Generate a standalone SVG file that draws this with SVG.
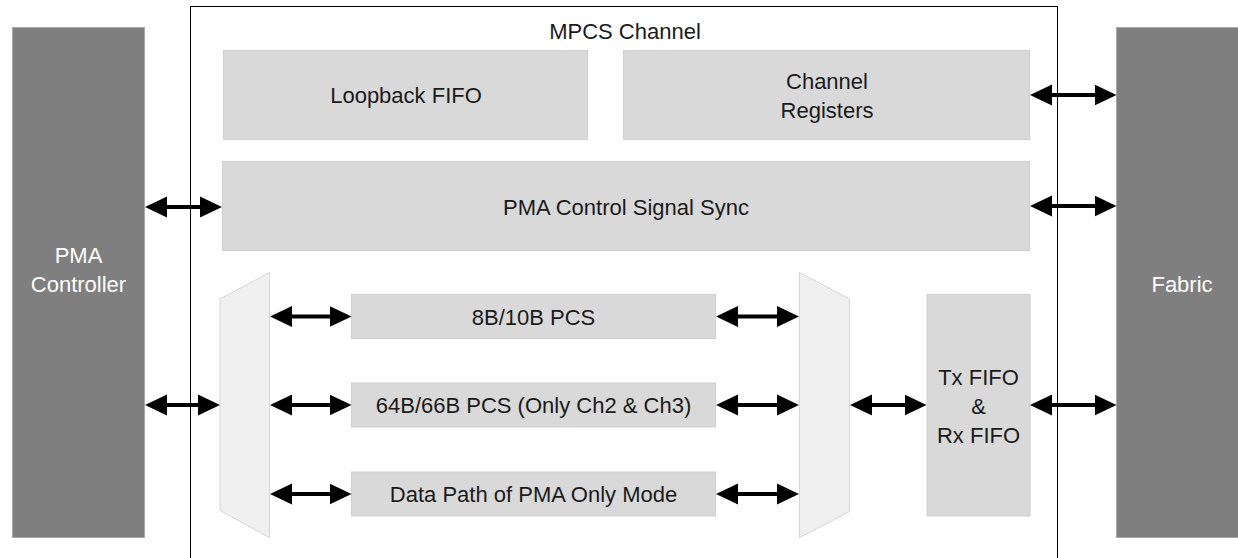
<svg xmlns="http://www.w3.org/2000/svg" width="1238" height="558" viewBox="0 0 1238 558">
<style>
.t{font-family:"Liberation Sans",Arial,sans-serif;font-size:22px;fill:#1a1a1a;text-anchor:middle}
.w{font-family:"Liberation Sans",Arial,sans-serif;font-size:22px;fill:#ffffff;text-anchor:middle}
.blk{fill:#d9d9d9;stroke:#cfcfcf;stroke-width:1}
.dark{fill:#7f7f7f;stroke:#a8a8a8;stroke-width:1}
.mux{fill:#f0f0f0;stroke:#d6d6d6;stroke-width:1}
.arr{stroke:#000;stroke-width:4;fill:none;marker-start:url(#ah);marker-end:url(#ah)}
</style>
<defs>
<marker id="ah" markerUnits="userSpaceOnUse" markerWidth="22" markerHeight="22" refX="10" refY="10.5" orient="auto-start-reverse" viewBox="0 0 22 21">
<path d="M0,0 L22,10.5 L0,21 z" fill="#000"/>
</marker>
</defs>
<rect width="1238" height="558" fill="#fff"/>
<g id="mpcs-channel">
<rect x="190.5" y="6.5" width="867" height="600" fill="none" stroke="#000" stroke-width="1"/>
<text class="t" x="625" y="39">MPCS Channel</text>
</g>
<g id="pma-controller">
<rect class="dark" x="12.5" y="27.5" width="132" height="510"/>
<text class="w" x="78.5" y="263">PMA</text>
<text class="w" x="78.5" y="292">Controller</text>
</g>
<g id="fabric">
<rect class="dark" x="1116.5" y="27.5" width="133" height="510"/>
<text class="w" x="1182" y="292">Fabric</text>
</g>
<g id="loopback-fifo">
<rect class="blk" x="223.5" y="50.5" width="364" height="89"/>
<text class="t" x="406" y="103">Loopback FIFO</text>
</g>
<g id="channel-registers">
<rect class="blk" x="623.5" y="50.5" width="406" height="89"/>
<text class="t" x="827" y="89">Channel</text>
<text class="t" x="827" y="118">Registers</text>
</g>
<g id="pma-control-signal-sync">
<rect class="blk" x="222.5" y="161.5" width="807" height="89"/>
<text class="t" x="626" y="215">PMA Control Signal Sync</text>
</g>
<g id="left-mux">
<polygon class="mux" points="220,299 269.5,272.5 269.5,537.5 220,510.5"/>
</g>
<g id="right-mux">
<polygon class="mux" points="799.5,272.5 849.5,299 849.5,511.5 799.5,537.5"/>
</g>
<g id="pcs-8b10b">
<rect class="blk" x="351.5" y="294.5" width="364" height="44"/>
<text class="t" x="533.5" y="324.5">8B/10B PCS</text>
</g>
<g id="pcs-64b66b">
<rect class="blk" x="351.5" y="383" width="364" height="44"/>
<text class="t" x="533.5" y="413">64B/66B PCS (Only Ch2 &amp; Ch3)</text>
</g>
<g id="pma-only-datapath">
<rect class="blk" x="351.5" y="472" width="364" height="44"/>
<text class="t" x="533.5" y="502">Data Path of PMA Only Mode</text>
</g>
<g id="tx-rx-fifo">
<rect class="blk" x="927" y="294.5" width="103" height="221.5"/>
<text class="t" x="978.5" y="385">Tx FIFO</text>
<text class="t" x="978.5" y="414">&amp;</text>
<text class="t" x="978.5" y="443">Rx FIFO</text>
</g>
<g id="connectors">
<line class="arr" x1="157" y1="207" x2="210" y2="207"/>
<line class="arr" x1="157" y1="405" x2="208" y2="405"/>
<line class="arr" x1="282" y1="316.5" x2="339.5" y2="316.5"/>
<line class="arr" x1="282" y1="405" x2="339.5" y2="405"/>
<line class="arr" x1="282" y1="494" x2="339.5" y2="494"/>
<line class="arr" x1="728" y1="316.5" x2="787" y2="316.5"/>
<line class="arr" x1="728" y1="405" x2="787" y2="405"/>
<line class="arr" x1="728" y1="494" x2="787" y2="494"/>
<line class="arr" x1="862" y1="405" x2="914.5" y2="405"/>
<line class="arr" x1="1042" y1="95" x2="1104.5" y2="95"/>
<line class="arr" x1="1042" y1="206" x2="1104.5" y2="206"/>
<line class="arr" x1="1042" y1="405" x2="1104.5" y2="405"/>
</g>
</svg>
